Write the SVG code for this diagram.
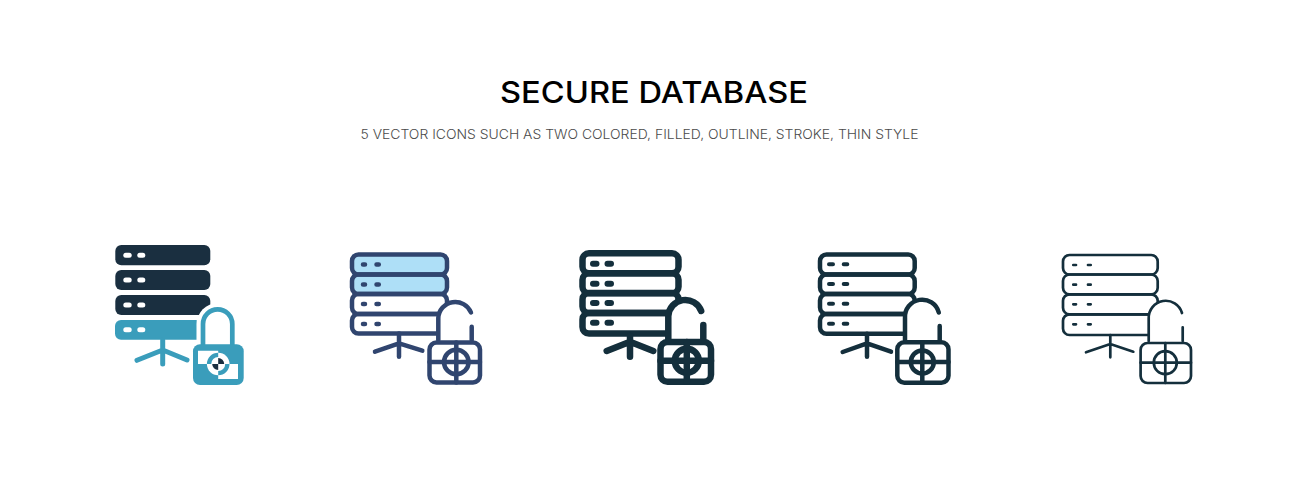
<svg xmlns="http://www.w3.org/2000/svg" width="1308" height="500" viewBox="0 0 1308 500">
<style>
.t{font-family:"Inter","Liberation Sans",sans-serif}
.ln{fill:none;stroke-linecap:round;stroke-linejoin:round}
.a{stroke:#30456f;stroke-width:4.5}
.b{stroke:#142f3c;stroke-width:6.5}
.c{stroke:#142f3c;stroke-width:4.5}
.d{stroke:#142f3c;stroke-width:2.7}
.w{fill:#fff}
.tl{fill:#3a9dbb}
.dk{fill:#1a2f40}
</style>
<rect width="1308" height="500" fill="#fff"/>
<g id="title"><text class="t" x="654" y="103.3" text-anchor="middle" font-size="30" font-weight="500" textLength="308" lengthAdjust="spacingAndGlyphs" fill="#000">SECURE DATABASE</text>
<text class="t" x="639.500" y="138.600" text-anchor="middle" font-size="13" font-weight="300" textLength="558" lengthAdjust="spacingAndGlyphs" fill="#4a4a4a">5 VECTOR ICONS SUCH AS TWO COLORED, FILLED, OUTLINE, STROKE, THIN STYLE</text></g>

<g id="icon-1">
<g class="dk"><rect x="115.300" y="245" width="95" height="20.300" rx="6"/><rect x="115.300" y="270" width="95" height="20" rx="6"/><rect x="115.300" y="295" width="95" height="20" rx="6"/></g>
<path class="tl" d="M121 320H196.700V339.700H121a6 6 0 0 1-6-6V326a6 6 0 0 1 6-6Z"/>
<path class="w" d="M196.700 346V324A20.900 20.900 0 0 1 238.500 324V346Z"/>
<g class="w"><rect x="123.300" y="252.800" width="8.400" height="5" rx="2.500"/><rect x="137.300" y="252.800" width="8" height="5" rx="2.500"/><rect x="123.300" y="277.500" width="8.400" height="5" rx="2.500"/><rect x="137.300" y="277.500" width="8" height="5" rx="2.500"/><rect x="123.300" y="302.500" width="8.400" height="5" rx="2.500"/><rect x="137.300" y="302.500" width="8" height="5" rx="2.500"/><rect x="123.300" y="327.300" width="8.400" height="5" rx="2.500"/><rect x="137.300" y="327.300" width="8" height="5" rx="2.500"/></g>
<path class="ln" d="M162.700 340V364M137 360.300L162.700 350L187 360" stroke="#3a9dbb" stroke-width="5"/>
<path class="ln" d="M203 346V324A14.650 14.650 0 0 1 232.300 324V346" stroke="#3a9dbb" stroke-width="4.700"/>
<rect class="tl" x="193" y="344.300" width="50.700" height="40.700" rx="7"/>
<path class="w" d="M198 350.700H218.200V364H198ZM218.200 364H238V379H218.200Z"/>
<circle class="w" cx="218.200" cy="364" r="11.300"/>
<path class="tl" d="M218.200 352.700A11.300 11.300 0 0 0 206.900 364H218.200ZM218.200 375.300A11.300 11.300 0 0 0 229.500 364H218.200Z"/>
<circle class="w" cx="218.200" cy="364" r="7"/>
<path class="dk" d="M218.200 358V364H224.200A6 6 0 0 0 218.200 358ZM218.200 370V364H212.200A6 6 0 0 0 218.200 370Z"/>
</g>

<g id="icon-2">
<g fill="#aedff7"><rect x="352" y="254.500" width="95" height="20"/><rect x="352" y="274.500" width="95" height="19.500"/></g>
<g class="ln a"><rect x="352" y="254.500" width="95" height="20" rx="6.500"/><rect x="352" y="274.500" width="95" height="19.500" rx="6.500"/><rect x="352" y="294" width="95" height="20" rx="6.500"/><rect x="352" y="314" width="95" height="19.500" rx="6.500"/>
<path d="M399 333.500V356.700M375 351.700L399 343.300L422.300 350.700"/></g>
<path class="w" d="M438.300 340V318A17 17 0 0 1 471 312.500V340Z"/>
<g class="ln a"><path d="M438.300 340V318A17 17 0 0 1 471 312.500M471.700 326.700V340"/>
<rect class="w" x="429.500" y="342.500" width="50.500" height="40" rx="7"/>
<circle cx="456.300" cy="362" r="12.300"/><path d="M429.500 362H480M456.300 342.500V382.500"/>
<path d="M363 264.500H365M376.500 264.500H378.800M363 284.500H365M376.500 284.500H378.800M363 304H365M376.500 304H378.800M363 324H365M376.500 324H378.800"/></g>
</g>

<g id="icon-3">
<g class="ln b"><rect x="582.500" y="253.300" width="96" height="20" rx="6.500"/><rect x="582.500" y="273.300" width="96" height="20" rx="6.500"/><rect x="582.500" y="293" width="96" height="20" rx="6.500"/><rect x="582.500" y="313" width="96" height="20.500" rx="6.500"/>
<path d="M630 336V356.700M606.700 351L630 341.700L653.300 351"/></g>
<path class="w" d="M668.300 340V316A17 17 0 0 1 701.200 311V340Z"/>
<g class="ln b"><path d="M668.300 340V316A17 17 0 0 1 701.200 311M703.300 325V340"/>
<rect class="w" x="660.500" y="342" width="50.500" height="39.800" rx="7"/>
<circle cx="686.800" cy="360.700" r="12"/><path d="M660.500 360.700H711M686.800 342V381.800"/></g>
<path class="ln" stroke="#142f3c" stroke-width="6" d="M593 263.700H596.500M607.500 263.700H611M593 283.700H596.500M607.500 283.700H611M593 303H596.500M607.500 303H611M593 322.700H596.500M607.500 322.700H611"/>
</g>

<g id="icon-4">
<g class="ln c"><rect x="820" y="254.500" width="94.700" height="20" rx="6.500"/><rect x="820" y="274.500" width="94.700" height="19.500" rx="6.500"/><rect x="820" y="294" width="94.700" height="20" rx="6.500"/><rect x="820" y="314" width="94.700" height="19.800" rx="6.500"/>
<path d="M867 333.800V356.700M842.700 352L867 343.300L891 351.700"/></g>
<path class="w" d="M905 340V318A17.200 17.200 0 0 1 938.800 312.500V340Z"/>
<g class="ln c"><path d="M905 340V318A17.200 17.200 0 0 1 938.800 312.500M939.700 326V340"/>
<rect class="w" x="897.300" y="342.300" width="51.200" height="40.400" rx="7"/>
<circle cx="922.300" cy="362" r="11.500"/><path d="M897.300 362H948.500M922.300 342.300V382.700"/></g>
<path class="ln" stroke="#142f3c" stroke-width="4" d="M829 264.300H833M843.700 264.300H847.300M829 284H833M843.700 284H847.300M829 303.700H833M843.700 303.700H847.300M829 323.700H833M843.700 323.700H847.300"/>
</g>

<g id="icon-5">
<g class="ln d"><rect x="1063" y="255" width="94.700" height="19.500" rx="6.500"/><rect x="1063" y="274.500" width="94.700" height="19.800" rx="6.500"/><rect x="1063" y="294.300" width="94.700" height="20" rx="6.500"/><rect x="1063" y="314.300" width="94.700" height="20.700" rx="6.500"/>
<path d="M1110.300 335V357.300M1086 352.300L1110.300 344L1133.300 351.700"/></g>
<path class="w" d="M1148.700 341V318.500A17 17 0 0 1 1182 313V341Z"/>
<g class="ln d"><path d="M1148.700 341V318.500A17 17 0 0 1 1182 313M1182.700 327.300V341"/>
<rect class="w" x="1140.600" y="343" width="50.400" height="40" rx="7"/>
<circle cx="1165.300" cy="362.700" r="11.500"/><path d="M1140.600 362.700H1191M1165.300 343V383"/></g>
<path class="ln" stroke="#142f3c" stroke-width="2.700" d="M1073.300 265H1076M1088 265H1090.700M1073.300 284.700H1076M1088 284.700H1090.700M1073.300 304.300H1076M1088 304.300H1090.700M1073.300 324.300H1076M1088 324.300H1090.700"/>
</g>
</svg>
